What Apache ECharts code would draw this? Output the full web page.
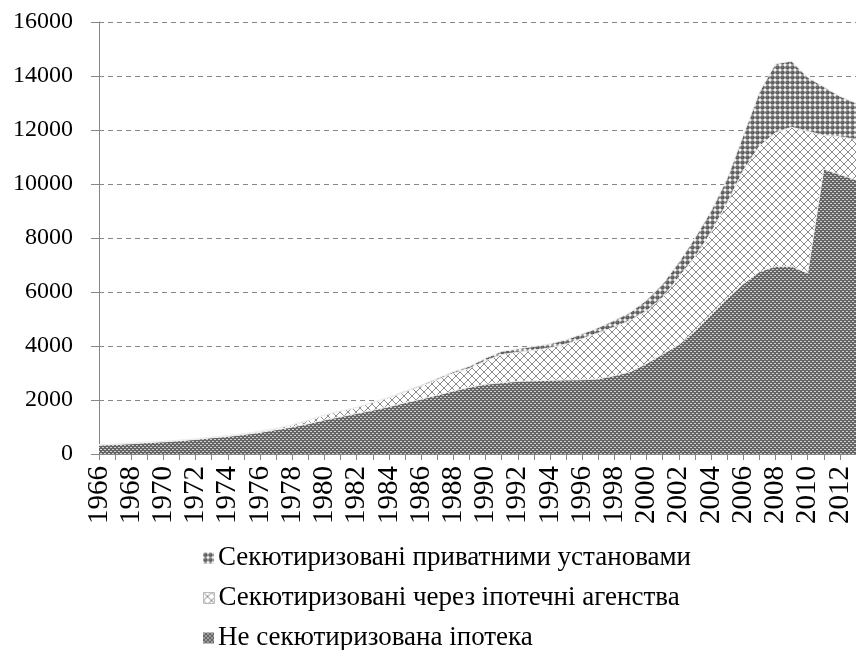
<!DOCTYPE html>
<html>
<head>
<meta charset="utf-8">
<script src="https://cdn.jsdelivr.net/npm/echarts@6/dist/echarts.min.js"></script>
<style>html,body{margin:0;padding:0;background:#fff}#c{width:856px;height:650px}</style>
</head>
<body>
<div id="c"></div>
<script>
var years = [];
for (var y = 1966; y <= 2013; y++) years.push(String(y));

var seriesNames = ['Не секютиризована іпотека', 'Секютиризовані через іпотечні агенства', 'Секютиризовані приватними установами'];

var nonSecuritized = [330,350,380,420,450,490,540,600,650,720,800,900,1000,1120,1260,1380,1500,1620,1750,1900,2030,2180,2330,2470,2580,2640,2690,2710,2730,2740,2750,2780,2900,3050,3350,3700,4050,4550,5150,5750,6300,6750,6950,6950,6700,10550,10350,10150];
var agencies = [10,20,20,20,20,20,20,20,30,30,40,50,80,130,180,210,220,290,330,400,480,570,660,700,870,1040,1080,1130,1200,1330,1520,1700,1800,1900,1950,2100,2500,2750,3050,3550,4200,4650,4950,5150,5250,1250,1400,1500];
var privateInst = [0,0,0,0,0,0,0,0,0,0,0,0,0,0,10,10,10,10,20,30,40,50,60,80,100,120,130,140,150,160,180,200,250,300,400,500,550,700,800,900,1300,2000,2550,2450,2000,1800,1500,1350];

var yTicks = {min: 0, max: 16000, interval: 2000};

function makeTile(w, h, draw) {
  var c = document.createElement('canvas');
  c.width = w; c.height = h;
  var ctx = c.getContext('2d');
  draw(ctx, w, h);
  return c;
}
var patBottom = makeTile(4, 4, function (ctx) {
  ctx.fillStyle = '#666666'; ctx.fillRect(0, 0, 4, 4);
  ctx.fillStyle = '#d0d0d0';
  ctx.fillRect(0, 1, 2, 1);
  ctx.fillRect(2, 3, 2, 1);
});
var patAgency = makeTile(8, 8, function (ctx) {
  ctx.fillStyle = '#ffffff'; ctx.fillRect(0, 0, 8, 8);
  ctx.strokeStyle = '#8a8a8a'; ctx.lineWidth = 1;
  ctx.beginPath();
  ctx.moveTo(0, 0); ctx.lineTo(8, 8);
  ctx.moveTo(8, 0); ctx.lineTo(0, 8);
  ctx.stroke();
});
var patPrivate = makeTile(5, 5, function (ctx) {
  ctx.fillStyle = '#ffffff'; ctx.fillRect(0, 0, 5, 5);
  ctx.fillStyle = '#5a5a5a';
  ctx.beginPath(); ctx.arc(2.5, 2.5, 2.3, 0, Math.PI * 2); ctx.fill();
  ctx.fillStyle = '#8e8e8e';
  ctx.beginPath(); ctx.arc(2.0, 2.0, 0.7, 0, Math.PI * 2); ctx.fill();
});
var fills = [
  {image: patBottom, repeat: 'repeat'},
  {image: patAgency, repeat: 'repeat'},
  {image: patPrivate, repeat: 'repeat'}
];
var dataSets = [nonSecuritized, agencies, privateInst];

var series = dataSets.map(function (d, i) {
  return {
    name: seriesNames[i],
    type: 'line',
    stack: 'total',
    data: d,
    showSymbol: false,
    symbol: 'none',
    smooth: false,
    lineStyle: {width: 1, color: '#eeeeee'},
    itemStyle: {color: fills[i]},
    areaStyle: {color: fills[i], opacity: 1},
    z: 2
  };
});

var font = 'Liberation Serif';
var legendOrder = [2, 1, 0];
var legendTops = [543, 583, 623];
var legends = legendOrder.map(function (si, k) {
  var item = {name: seriesNames[si], icon: 'rect', itemStyle: {color: fills[si]}};
  if (si === 1) { item.itemStyle.borderColor = '#bbbbbb'; item.itemStyle.borderWidth = 1; }
  return {
    orient: 'vertical',
    left: 203,
    top: legendTops[k],
    padding: 0,
    itemWidth: 11,
    itemHeight: 11,
    itemGap: 0,
    selectedMode: false,
    textStyle: {fontFamily: font, fontSize: 27, color: '#000', lineHeight: 30, padding: [0, 0, 0, -1]},
    data: [item]
  };
});

var chart = echarts.init(document.getElementById('c'), null, {renderer: 'canvas'});
chart.setOption({
  animation: false,
  backgroundColor: '#ffffff',
  grid: {left: 99, top: 22, width: 765, height: 432, containLabel: false},
  xAxis: {
    type: 'category',
    data: years,
    boundaryGap: false,
    axisLine: {lineStyle: {color: '#868686', width: 1}},
    axisTick: {show: true, interval: 0, length: 6, lineStyle: {color: '#868686'}},
    axisLabel: {rotate: 90, interval: 1, margin: 12, color: '#000', fontFamily: font, fontSize: 29}
  },
  yAxis: {
    type: 'value',
    min: yTicks.min, max: yTicks.max, interval: yTicks.interval,
    axisLine: {show: true, lineStyle: {color: '#868686', width: 1}},
    axisTick: {show: true, length: 8, lineStyle: {color: '#868686'}},
    axisLabel: {color: '#000', fontFamily: font, fontSize: 24, margin: 26, formatter: function (v) { return String(v); }},
    splitLine: {show: true, lineStyle: {color: '#868686', type: [5, 4], width: 1}}
  },
  legend: legends,
  series: series
});
</script>
</body>
</html>
